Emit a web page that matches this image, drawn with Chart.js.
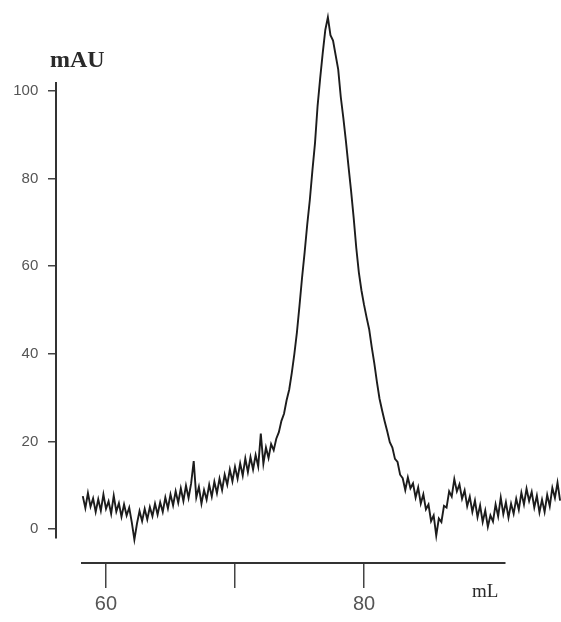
<!DOCTYPE html>
<html>
<head>
<meta charset="utf-8">
<script src="https://cdn.jsdelivr.net/npm/chart.js@4.4.1/dist/chart.umd.min.js"></script>
<style>
  html, body { margin: 0; padding: 0; background: #ffffff; }
  canvas { display: block; }
</style>
</head>
<body>
<canvas id="c" width="561" height="622"></canvas>
<script>
// Elution volume (mL)
const volumes = [
  58.2, 58.4, 58.6, 58.8, 59.0, 59.2, 59.4, 59.6, 59.8, 60.0,
  60.2, 60.4, 60.6, 60.8, 61.0, 61.2, 61.4, 61.6, 61.8, 62.0,
  62.2, 62.4, 62.6, 62.8, 63.0, 63.2, 63.4, 63.6, 63.8, 64.0,
  64.2, 64.4, 64.6, 64.8, 65.0, 65.2, 65.4, 65.6, 65.8, 66.0,
  66.2, 66.4, 66.6, 66.8, 67.0, 67.2, 67.4, 67.6, 67.8, 68.0,
  68.2, 68.4, 68.6, 68.8, 69.0, 69.2, 69.4, 69.6, 69.8, 70.0,
  70.2, 70.4, 70.6, 70.8, 71.0, 71.2, 71.4, 71.6, 71.8, 72.0,
  72.2, 72.4, 72.6, 72.8, 73.0, 73.2, 73.4, 73.6, 73.8, 74.0,
  74.2, 74.4, 74.6, 74.8, 75.0, 75.2, 75.4, 75.6, 75.8, 76.0,
  76.2, 76.4, 76.6, 76.8, 77.0, 77.2, 77.4, 77.6, 77.8, 78.0,
  78.2, 78.4, 78.6, 78.8, 79.0, 79.2, 79.4, 79.6, 79.8, 80.0,
  80.2, 80.4, 80.6, 80.8, 81.0, 81.2, 81.4, 81.6, 81.8, 82.0,
  82.2, 82.4, 82.6, 82.8, 83.0, 83.2, 83.4, 83.6, 83.8, 84.0,
  84.2, 84.4, 84.6, 84.8, 85.0, 85.2, 85.4, 85.6, 85.8, 86.0,
  86.2, 86.4, 86.6, 86.8, 87.0, 87.2, 87.4, 87.6, 87.8, 88.0,
  88.2, 88.4, 88.6, 88.8, 89.0, 89.2, 89.4, 89.6, 89.8, 90.0,
  90.2, 90.4, 90.6, 90.8, 91.0, 91.2, 91.4, 91.6, 91.8, 92.0,
  92.2, 92.4, 92.6, 92.8, 93.0, 93.2, 93.4, 93.6, 93.8, 94.0,
  94.2, 94.4, 94.6, 94.8, 95.0, 95.2
];

// Absorbance (mAU)
const absorbance = [
  7.5, 4.8, 8.2, 5.1, 7.0, 3.9, 6.8, 4.2, 7.9, 4.6,
  6.3, 3.5, 7.6, 4.0, 5.9, 2.8, 5.6, 3.1, 4.9, 1.5,
  -2.4, 1.2, 4.1, 1.8, 4.6, 2.2, 5.0, 2.9, 5.8, 3.3,
  6.1, 3.9, 7.2, 4.7, 7.9, 5.4, 8.6, 6.0, 9.3, 6.4,
  9.9, 7.1, 10.4, 15.5, 7.2, 9.6, 5.8, 8.9, 6.7, 10.1,
  7.4, 10.8, 8.2, 11.5, 8.9, 12.4, 10.1, 13.6, 10.9, 14.2,
  11.5, 15.0, 12.2, 16.1, 13.0, 16.4, 13.6, 16.9, 14.3, 21.8,
  14.9, 18.6, 16.2, 19.4, 18.0, 20.6, 22.1, 24.7, 26.3, 29.4,
  31.8, 35.6, 39.9, 44.9, 51.0, 57.4, 63.2, 69.5, 75.1, 81.8,
  88.0, 96.5, 102.8, 108.6, 113.9, 116.8, 112.7, 111.5, 108.2, 104.9,
  98.6, 93.8, 88.5, 82.7, 77.1, 71.0, 64.2, 58.6, 54.5, 51.2,
  48.3, 45.6, 41.5, 37.8, 33.6, 29.8, 27.1, 24.6, 22.3, 19.8,
  18.6, 16.0, 15.3, 12.4, 11.6, 8.9, 11.8, 9.3, 10.4, 7.2,
  9.5, 5.8, 7.9, 4.5, 5.6, 1.8, 3.1, -1.5, 2.4, 1.6,
  5.3, 4.9, 8.6, 7.4, 11.4, 8.6, 10.2, 6.9, 8.8, 5.2,
  7.4, 3.9, 6.5, 2.7, 5.4, 1.6, 4.2, 0.5, 3.1, 1.7,
  5.6, 2.9, 7.2, 3.4, 6.1, 2.6, 5.8, 3.5, 6.9, 4.4,
  8.3, 5.6, 9.2, 6.4, 8.5, 4.9, 7.6, 3.8, 6.7, 3.9,
  7.8, 5.2, 9.4, 7.1, 10.6, 6.5
];

const xTickValues = [60, 70, 80];
const xTickLabels = ['60', '', '80'];
const yTickValues = [0, 20, 40, 60, 80, 100];
const yAxisTitle = 'mAU';
const xAxisTitle = 'mL';

// visible axis ranges
const X_MIN = 58.14, X_MAX = 90.93;
const Y_MIN = -2.05, Y_MAX = 101.8;

const axisTitles = {
  id: 'axisTitles',
  afterDraw(chart) {
    const ctx = chart.ctx;
    ctx.save();
    ctx.fillStyle = '#2a2a2a';
    ctx.textBaseline = 'middle';
    ctx.textAlign = 'left';
    ctx.font = 'bold 24px "Liberation Serif", "DejaVu Serif", serif';
    ctx.fillText(yAxisTitle, 50, 61);
    ctx.font = '19px "Liberation Serif", "DejaVu Serif", serif';
    ctx.fillText(xAxisTitle, 472, 592);
    ctx.restore();
  }
};

const setX = (s) => { s.min = X_MIN; s.max = X_MAX; };
const setY = (s) => { s.min = Y_MIN; s.max = Y_MAX; };

new Chart(document.getElementById('c'), {
  type: 'line',
  data: {
    datasets: [{
      data: volumes.map((v, i) => ({ x: v, y: absorbance[i] })),
      borderColor: '#1c1c1c',
      borderWidth: 1.9,
      pointRadius: 0,
      tension: 0,
      fill: false,
      clip: false,
      xAxisID: 'x',
      yAxisID: 'y'
    }]
  },
  options: {
    responsive: false,
    animation: false,
    events: [],
    layout: { padding: { left: 82, right: 56, top: 83, bottom: 84 } },
    plugins: { legend: { display: false }, tooltip: { enabled: false } },
    scales: {
      x: {
        type: 'linear',
        bounds: 'data',
        position: { y: -7.76 },
        afterDataLimits: setX,
        afterBuildTicks: (s) => { setX(s); s.ticks = xTickValues.map(v => ({ value: v })); },
        ticks: {
          callback: (v) => xTickLabels[xTickValues.indexOf(v)],
          color: '#555',
          font: { family: 'Arial, "Liberation Sans", sans-serif', size: 20 },
          padding: 5,
          maxRotation: 0,
          autoSkip: false
        },
        grid: { display: true, drawOnChartArea: false, drawTicks: true, tickLength: 24, color: '#444', lineWidth: 1.5 },
        border: { display: true, color: '#333', width: 2 }
      },
      y: {
        type: 'linear',
        bounds: 'data',
        position: { x: 56.12 },
        afterDataLimits: setY,
        afterBuildTicks: (s) => { setY(s); s.ticks = yTickValues.map(v => ({ value: v })); },
        ticks: { display: false },
        grid: { display: true, drawOnChartArea: false, drawTicks: true, tickLength: 7, color: '#444', lineWidth: 1.5 },
        border: { display: true, color: '#333', width: 2 }
      },
      yLabels: {
        type: 'linear',
        axis: 'y',
        bounds: 'data',
        position: { x: 54.75 },
        afterDataLimits: setY,
        afterBuildTicks: (s) => { setY(s); s.ticks = yTickValues.map(v => ({ value: v })); },
        ticks: {
          color: '#555',
          font: { family: 'Arial, "Liberation Sans", sans-serif', size: 15 },
          padding: 0,
          autoSkip: false
        },
        grid: { display: false, drawTicks: false },
        border: { display: false }
      }
    }
  },
  plugins: [axisTitles]
});
</script>
</body>
</html>
